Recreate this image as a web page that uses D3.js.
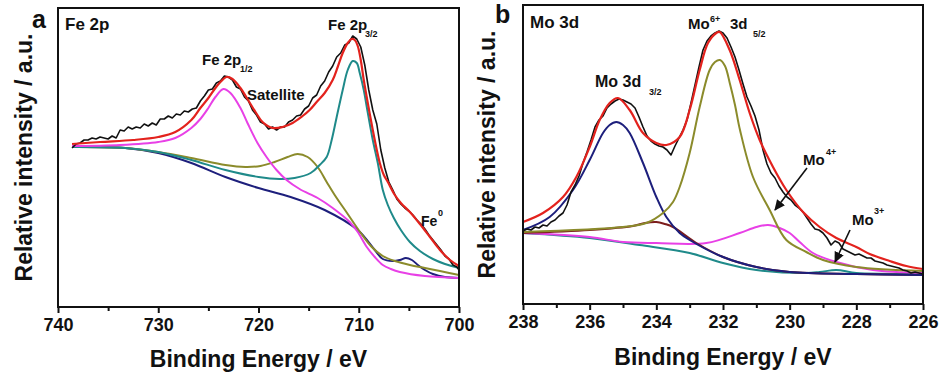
<!DOCTYPE html>
<html><head><meta charset="utf-8">
<script src="https://cdn.jsdelivr.net/npm/d3@7/dist/d3.min.js"></script>
<style>
html,body{margin:0;padding:0;background:#fff;}
svg{display:block;}
text{font-family:"Liberation Sans",Arial,Helvetica,sans-serif;font-weight:bold;fill:#111;}
</style></head>
<body>
<svg id="chart" width="943" height="380"></svg>
<script>
// ---------- Panel a : Fe 2p (binding energy eV, intensity a.u.) ----------
const aTicksMajor = [740, 730, 720, 710, 700];
const aTicksMinor = [735, 725, 715, 705];
const aBlack = [[738.6,159],[738.2,163],[737.8,164],[737.4,167],[737.0,167],[736.6,169],[736.2,168],[735.8,170],[735.4,169],[735.0,168],[734.6,171],[734.2,169],[733.8,177],[733.4,176],[733.0,180],[732.6,178],[732.2,180],[731.8,179],[731.4,183],[731.0,181],[730.6,184],[730.2,182],[729.8,188],[729.4,188],[729.0,191],[728.6,189],[728.2,193],[727.8,192],[727.4,196],[727.0,195],[726.6,198],[726.2,199],[725.8,206],[725.4,211],[725.0,217],[724.6,218],[724.2,224],[723.8,226],[723.4,231],[723.0,230],[722.6,227],[722.2,220],[721.8,218],[721.4,210],[721.0,206],[720.6,197],[720.2,192],[719.8,185],[719.4,183],[719.0,178],[718.6,180],[718.2,177],[717.8,180],[717.4,180],[717.0,185],[716.6,187],[716.2,191],[715.8,192],[715.4,198],[715.0,201],[714.6,209],[714.2,212],[713.8,221],[713.4,226],[713.0,235],[712.6,241],[712.2,250],[711.8,254],[711.4,262],[711.0,264],[710.6,271],[710.2,268],[709.8,260],[709.4,242],[709.0,217],[708.6,197],[708.2,183],[707.8,157],[707.4,139],[707.0,125],[706.6,117],[706.2,108],[705.8,103],[705.4,99],[705.0,96],[704.6,92],[704.2,87],[703.8,83],[703.4,78],[703.0,72],[702.6,67],[702.2,62],[701.8,57],[701.4,51],[701.0,48],[700.6,42],[700.2,40],[700.0,37]];
const aEnvelope = [[738.6,163],[735.8,165],[732.5,167],[730.0,170],[728.3,175],[726.7,187],[725.8,199],[725.0,209],[724.3,219],[723.8,225],[723.2,230],[722.6,228],[721.8,219],[721.1,208],[720.3,195],[719.6,185],[718.6,179],[717.6,180],[716.6,184],[715.6,191],[714.9,197],[714.2,205],[713.4,214],[712.6,227],[712.1,240],[711.6,254],[711.1,264],[710.7,268],[710.4,267],[710.1,261],[709.8,247],[709.5,227],[709.1,204],[708.6,177],[708.2,157],[707.9,144],[707.5,132],[707.1,125],[706.4,112],[705.8,104],[704.9,95],[703.9,83],[702.9,70],[701.9,57],[700.9,47],[700.0,41]];
const aFe2p12 = [[738.6,161],[733.8,162],[730.0,165],[728.3,169],[726.7,179],[725.8,188],[725.0,199],[724.3,210],[723.5,218],[722.8,214],[721.8,199],[721.1,184],[720.1,164],[719.2,150],[718.2,137],[717.2,127],[715.9,118],[714.1,109],[712.6,99],[710.9,85],[710.1,75],[709.2,60],[708.4,50],[707.6,42],[706.8,38],[705.9,35],[703.4,31],[700.0,29]];
const aFe0 = [[738.6,160],[733.3,159],[730.0,154],[726.7,144],[723.3,130],[720.0,119],[716.8,110],[713.4,97],[710.1,77],[708.4,57],[707.6,48],[706.6,46],[705.9,47],[705.3,49],[704.7,47],[704.1,42],[703.4,37],[702.6,33],[701.4,30],[700.0,29]];
const aSatellite = [[738.6,160],[733.3,159],[730.0,155],[726.7,149],[723.3,142],[721.3,140],[719.8,141],[718.4,145],[717.1,150],[716.1,153],[715.1,150],[714.1,140],[713.2,125],[712.4,112],[711.1,93],[709.8,74],[708.7,60],[707.6,51],[706.4,46],[704.9,42],[703.4,39],[701.9,36],[700.0,32]];
const aFe2p32 = [[738.6,160],[733.3,159],[730.0,155],[726.7,147],[723.3,137],[720.0,130],[717.9,128],[716.4,129],[714.8,134],[713.9,142],[713.2,150],[712.7,167],[712.2,190],[711.6,217],[711.1,237],[710.6,246],[710.2,244],[709.9,234],[709.5,217],[709.2,200],[708.6,167],[708.1,144],[707.6,117],[707.1,102],[706.5,89],[705.8,77],[704.9,65],[703.9,56],[702.6,48],[701.4,43],[700.0,39]];

// ---------- Panel b : Mo 3d ----------
const bTicksMajor = [238, 236, 234, 232, 230, 228, 226];
const bTicksMinor = [237, 235, 233, 231, 229, 227];
const bBlack = [[238.00,73],[237.88,75],[237.76,74],[237.64,77],[237.52,76],[237.40,79],[237.28,78],[237.16,82],[237.04,84],[236.92,88],[236.80,91],[236.68,99],[236.56,112],[236.44,119],[236.32,128],[236.20,141],[236.08,152],[235.96,164],[235.84,177],[235.72,184],[235.60,188],[235.48,196],[235.36,200],[235.24,203],[235.12,205],[235.00,204],[234.88,202],[234.76,200],[234.64,196],[234.52,187],[234.40,177],[234.28,168],[234.16,163],[234.04,160],[233.92,158],[233.80,157],[233.68,154],[233.56,149],[233.44,158],[233.32,166],[233.20,174],[233.08,184],[232.96,201],[232.84,219],[232.72,237],[232.60,254],[232.48,263],[232.36,268],[232.24,271],[232.12,273],[232.00,271],[231.88,266],[231.76,257],[231.64,247],[231.52,234],[231.40,220],[231.28,207],[231.16,198],[231.04,188],[230.92,174],[230.80,154],[230.68,140],[230.56,131],[230.44,126],[230.32,118],[230.20,112],[230.08,107],[229.96,104],[229.84,99],[229.72,96],[229.60,92],[229.48,86],[229.36,80],[229.24,75],[229.12,74],[229.00,71],[228.88,66],[228.76,59],[228.64,63],[228.52,61],[228.40,55],[228.28,53],[228.16,51],[228.04,49],[227.92,50],[227.80,48],[227.68,46],[227.56,46],[227.44,43],[227.32,42],[227.20,41],[227.08,39],[226.96,38],[226.84,37],[226.72,36],[226.60,34],[226.48,33],[226.36,31],[226.24,32],[226.12,31],[226.00,30]];
const bEnvelope = [[238.0,82],[237.4,91],[236.8,107],[236.4,127],[236.0,157],[235.7,184],[235.4,201],[235.15,206],[234.8,194],[234.4,171],[234.0,161],[233.7,159],[233.3,167],[233.0,194],[232.7,234],[232.45,261],[232.2,271],[232.1,272],[231.8,254],[231.5,224],[231.2,191],[230.9,164],[230.5,137],[230.1,114],[229.6,92],[229.1,77],[228.6,66],[228.0,57],[227.6,50],[227.0,43],[226.5,38],[226.0,35]];
const bMo3d32 = [[238.0,74],[237.2,87],[236.5,114],[236.0,144],[235.6,171],[235.4,179],[235.2,182],[235.0,179],[234.8,171],[234.4,141],[234.0,107],[233.7,87],[233.3,71],[233.0,64],[232.0,47],[231.0,37],[230.0,32],[228.0,30],[226.0,29]];
const bMo6 = [[238.0,72],[235.0,77],[234.3,81],[233.8,91],[233.5,102],[233.3,117],[233.0,151],[232.7,197],[232.4,234],[232.24,242],[232.09,244],[231.94,238],[231.79,220],[231.64,199],[231.49,174],[231.1,127],[230.6,94],[230.1,64],[229.5,52],[229.0,44],[228.0,37],[226.0,33]];
const bMoSmall = [[238.0,71],[236.0,74],[234.7,78],[234.34,81],[234.0,82],[233.74,80],[233.5,77],[232.8,61],[232.0,47],[231.0,37],[230.0,32],[228.0,30],[226.0,29]];
const bMo4 = [[238.0,71],[236.0,67],[235.0,62],[234.0,61],[232.5,61],[231.5,71],[231.0,77],[230.65,79],[230.3,76],[230.0,71],[229.7,62],[229.3,51],[228.6,42],[227.5,34],[226.0,31]];
const bMo3 = [[238.0,71],[236.0,66],[234.5,59],[233.0,51],[232.0,41],[231.0,34],[229.5,31],[229.1,32],[228.6,34],[228.2,32],[228.0,31],[226.0,30]];

const colors = {black:"#111111", red:"#e3221d", magenta:"#e840e6", navy:"#1d1f7c", olive:"#8b8b2b", teal:"#1f8a8a", maroon:"#7c1d1d"};

const svg = d3.select("#chart");
const defs = svg.append("defs");
defs.append("marker").attr("id","arrow").attr("viewBox","0 -5 10 10")
  .attr("refX",9).attr("refY",0).attr("markerWidth",11).attr("markerHeight",11)
  .attr("markerUnits","userSpaceOnUse").attr("orient","auto")
  .append("path").attr("d","M0,-4.5L10,0L0,4.5Z").attr("fill","#111");

function panel(cfg) {
  const g = svg.append("g");
  const x = d3.scaleLinear().domain(cfg.xDomain).range([cfg.left, cfg.right]);
  const y = d3.scaleLinear().domain([0, 299]).range([cfg.bottom, cfg.top]);
  const smooth = d3.line().x(d => x(d[0])).y(d => y(d[1])).curve(d3.curveCatmullRom.alpha(0.5));
  const raw = d3.line().x(d => x(d[0])).y(d => y(d[1]));
  cfg.series.forEach(s => {
    g.append("path").datum(s.data).attr("d", s.raw ? raw : smooth)
      .attr("fill","none").attr("stroke", s.color).attr("stroke-width", s.w)
      .attr("stroke-linejoin","round");
  });
  g.append("rect").attr("x",cfg.left).attr("y",cfg.top)
    .attr("width",cfg.right-cfg.left).attr("height",cfg.bottom-cfg.top)
    .attr("fill","none").attr("stroke","#111").attr("stroke-width",2);
  const ax = g.append("g").attr("transform",`translate(0,${cfg.bottom})`)
    .call(d3.axisBottom(x).tickValues(cfg.major).tickSize(6).tickPadding(5).tickFormat(d3.format("d")));
  ax.select(".domain").remove();
  ax.selectAll("line").attr("stroke","#111").attr("stroke-width",2);
  ax.selectAll("text").style("font-size","18px").style("font-family",'"Liberation Sans",Arial,sans-serif').style("font-weight","bold").attr("fill","#111");
  const axm = g.append("g").attr("transform",`translate(0,${cfg.bottom})`)
    .call(d3.axisBottom(x).tickValues(cfg.minor).tickSize(4).tickFormat(""));
  axm.select(".domain").remove();
  axm.selectAll("line").attr("stroke","#111").attr("stroke-width",2);
  g.append("text").attr("x",(cfg.left+cfg.right)/2).attr("y",cfg.xTitleY)
    .attr("text-anchor","middle").style("font-size","23px").text("Binding Energy / eV");
  g.append("text").attr("transform",`translate(${cfg.yTitleX},${(cfg.top+cfg.bottom)/2}) rotate(-90)`)
    .attr("text-anchor","middle").style("font-size","23px").text("Relative intensity / a.u.");
  return {g, x, y};
}

const pa = panel({xDomain:[740,700], left:58, right:459, top:8, bottom:307, major:aTicksMajor, minor:aTicksMinor,
  xTitleY:367, yTitleX:32,
  series:[
    {data:aFe0, color:colors.navy, w:2},
    {data:aSatellite, color:colors.olive, w:2},
    {data:aFe2p32, color:colors.teal, w:2},
    {data:aFe2p12, color:colors.magenta, w:2},
    {data:aBlack, color:colors.black, w:1.6, raw:true},
    {data:aEnvelope, color:colors.red, w:2.2}
  ]});

const pb = panel({xDomain:[238,226], left:523, right:923, top:5, bottom:304, major:bTicksMajor, minor:bTicksMinor,
  xTitleY:365, yTitleX:495,
  series:[
    {data:bMo3, color:colors.teal, w:2},
    {data:bMo4, color:colors.magenta, w:2},
    {data:bMoSmall, color:colors.maroon, w:2},
    {data:bMo3d32, color:colors.navy, w:2},
    {data:bMo6, color:colors.olive, w:2},
    {data:bBlack, color:colors.black, w:1.6, raw:true},
    {data:bEnvelope, color:colors.red, w:2.2}
  ]});

function txt(x, y, s, size) {
  svg.append("text").attr("x",x).attr("y",y).style("font-size",size+"px").text(s);
}
txt(32, 28, "a", 25);
txt(495, 23, "b", 25);
txt(65, 30, "Fe 2p", 17);
txt(328, 30, "Fe 2p", 15); txt(365, 37, "3/2", 9);
txt(202, 65, "Fe 2p", 15); txt(240, 72, "1/2", 9);
txt(247, 100, "Satellite", 15);
txt(421, 226, "Fe", 14); txt(438, 216, "0", 9);

txt(530, 28, "Mo 3d", 17);
txt(688, 29, "Mo", 15); txt(710, 22, "6+", 9); txt(730, 29, "3d", 15); txt(753, 37, "5/2", 9);
txt(595, 87, "Mo 3d", 16); txt(649, 95, "3/2", 9);
txt(803, 165, "Mo", 15); txt(826, 155, "4+", 9);
txt(852, 225, "Mo", 15); txt(874, 214, "3+", 9);

svg.append("line").attr("x1",807).attr("y1",168).attr("x2",775).attr("y2",210)
  .attr("stroke","#111").attr("stroke-width",1.6).attr("marker-end","url(#arrow)");
svg.append("line").attr("x1",850).attr("y1",230).attr("x2",835).attr("y2",262)
  .attr("stroke","#111").attr("stroke-width",1.6).attr("marker-end","url(#arrow)");
</script>
</body></html>
